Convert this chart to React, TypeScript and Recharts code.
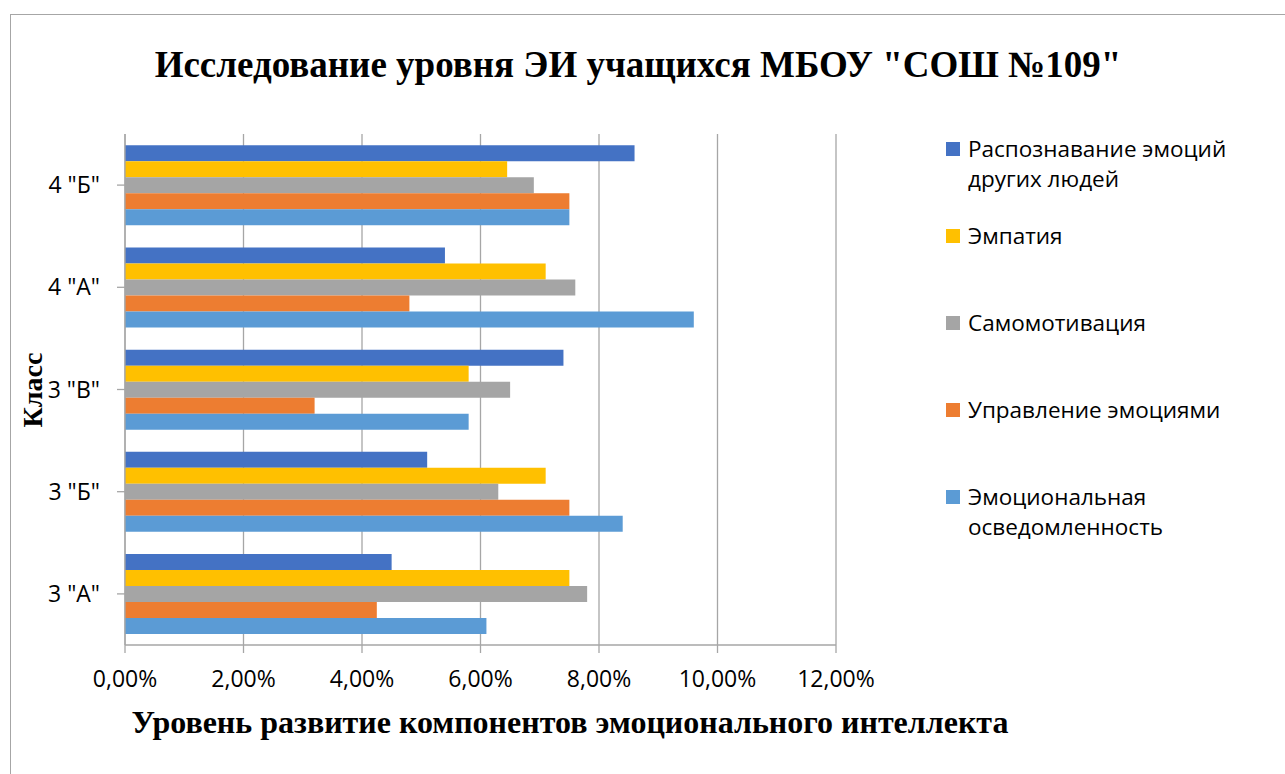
import React from "react";
import { BarChart, Bar, XAxis, YAxis, CartesianGrid, Legend } from "recharts";

// классы (сверху вниз, как на графике)
const classes = ['4 "Б"', '4 "А"', '3 "В"', '3 "Б"', '3 "А"'];

// значения в процентах
const recognition = [8.6, 5.4, 7.4, 5.1, 4.5];
const empathy = [6.45, 7.1, 5.8, 7.1, 7.5];
const selfMotivation = [6.9, 7.6, 6.5, 6.3, 7.8];
const management = [7.5, 4.8, 3.2, 7.5, 4.25];
const awareness = [7.5, 9.6, 5.8, 8.4, 6.1];

const xTicks = [0, 2, 4, 6, 8, 10, 12];

const series = [
    { key: "recognition", name: "Распознавание эмоций других людей", color: "#4472C4", values: recognition },
    { key: "empathy", name: "Эмпатия", color: "#FFC000", values: empathy },
    { key: "selfMotivation", name: "Самомотивация", color: "#A5A5A5", values: selfMotivation },
    { key: "management", name: "Управление эмоциями", color: "#ED7D31", values: management },
    { key: "awareness", name: "Эмоциональная осведомленность", color: "#5B9BD5", values: awareness },
];

const data = classes.map((cls, i) => {
    const row: Record<string, string | number> = { cls };
    series.forEach((s) => {
        row[s.key] = s.values[i];
    });
    return row;
});

const sans = "'Open Sans', sans-serif";
const serif = "'Liberation Serif', 'Times New Roman', serif";

const fmtPct = (v: number) => v.toFixed(2).replace(".", ",") + "%";

function LegendBox(props: any) {
    const payload = props.payload || [];
    const ordered = series
        .map((s) => payload.find((p: any) => p.dataKey === s.key))
        .filter(Boolean);
    return (
        <div style={{ position: "relative", width: 300, height: 420 }}>
            {ordered.map((p: any, i: number) => (
                <div
                    key={p.dataKey}
                    style={{ position: "absolute", left: 0, top: i * 87, display: "flex", alignItems: "flex-start" }}
                >
                    <div style={{ width: 14, height: 14, background: p.color, marginTop: 7, marginRight: 8 }} />
                    <div
                        style={{
                            fontFamily: sans,
                            fontSize: 22.5,
                            lineHeight: "30px",
                            color: "#000",
                            width: 285,
                            marginTop: -1,
                        }}
                    >
                        {p.value}
                    </div>
                </div>
            ))}
        </div>
    );
}

export default function App() {
    return (
        <div
            style={{
                position: "absolute",
                left: 0,
                top: 0,
                width: 1285,
                height: 774,
                overflow: "hidden",
                background: "#fff",
            }}
        >
            <div
                style={{
                    position: "absolute",
                    left: 10,
                    top: 14,
                    width: 1300,
                    height: 800,
                    border: "1px solid #a6a6a6",
                }}
            />
            <div
                style={{
                    position: "absolute",
                    left: 0,
                    width: 1276,
                    top: 46,
                    textAlign: "center",
                    fontFamily: serif,
                    fontWeight: "bold",
                    fontSize: 37,
                    lineHeight: "37px",
                    color: "#000",
                }}
            >
                Исследование уровня ЭИ учащихся МБОУ "СОШ №109"
            </div>
            <div
                style={{
                    position: "absolute",
                    left: 70,
                    width: 1000,
                    top: 706,
                    textAlign: "center",
                    fontFamily: serif,
                    fontWeight: "bold",
                    fontSize: 32,
                    lineHeight: "32px",
                    color: "#000",
                }}
            >
                Уровень развитие компонентов эмоционального интеллекта
            </div>
            <div
                style={{
                    position: "absolute",
                    left: 33,
                    top: 390,
                    transform: "translate(-50%, -50%) rotate(-90deg)",
                    fontFamily: serif,
                    fontWeight: "bold",
                    fontSize: 28,
                    lineHeight: "28px",
                    color: "#000",
                    whiteSpace: "nowrap",
                }}
            >
                Класс
            </div>
            <div style={{ position: "absolute", left: 0, top: 0 }}>
                <BarChart
                    width={1285}
                    height={774}
                    data={data}
                    layout="vertical"
                    margin={{ top: 134, right: 149, bottom: 69, left: 10 }}
                    barCategoryGap="11%"
                    barGap={0}
                >
                    <CartesianGrid horizontal={false} stroke="#a6a6a6" strokeWidth={1.3} />
                    <XAxis
                        type="number"
                        domain={[0, 12]}
                        ticks={xTicks}
                        tickFormatter={fmtPct}
                        height={60}
                        stroke="#a6a6a6"
                        strokeWidth={1.3}
                        tickSize={8}
                        tickMargin={18}
                        tick={{ fontFamily: sans, fontSize: 23, fill: "#000" }}
                    />
                    <YAxis
                        type="category"
                        dataKey="cls"
                        width={115}
                        stroke="#a6a6a6"
                        strokeWidth={1.3}
                        tickSize={8}
                        tickMargin={17}
                        tick={{ fontFamily: sans, fontSize: 23, fill: "#000" }}
                    />
                    <Legend
                        layout="vertical"
                        align="right"
                        verticalAlign="top"
                        width={300}
                        wrapperStyle={{ left: 946, top: 135, right: "auto" }}
                        content={<LegendBox />}
                    />
                    {series.map((s) => (
                        <Bar key={s.key} dataKey={s.key} name={s.name} fill={s.color} isAnimationActive={false} />
                    ))}
                </BarChart>
            </div>
        </div>
    );
}
